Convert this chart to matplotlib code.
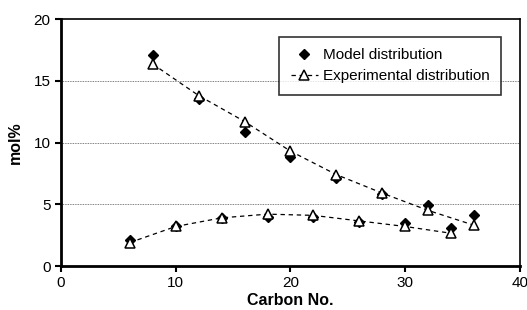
import matplotlib.pyplot as plt
import numpy as np

plt.rcParams['font.family'] = ['Liberation Sans', 'DejaVu Sans']

# upper branch (C8..C36) and lower branch (C6..C34)
carbon_upper = [8, 12, 16, 20, 24, 28, 32, 36]
model_upper = [17.1, 13.5, 10.85, 8.8, 7.15, 5.8, 4.9, 4.1]
exp_upper = [16.35, 13.8, 11.7, 9.3, 7.4, 5.9, 4.5, 3.3]

carbon_lower = [6, 10, 14, 18, 22, 26, 30, 34]
model_lower = [2.1, 3.2, 3.85, 4.0, 4.0, 3.6, 3.45, 3.1]
exp_lower = [1.9, 3.2, 3.9, 4.2, 4.1, 3.65, 3.2, 2.65]

fig = plt.figure(figsize=(5.27, 3.10), dpi=100)
ax = fig.add_axes([0.1157, 0.1419, 0.8710, 0.7968])

for y in [5, 10, 15]:
    ax.axhline(y, color='#555555', lw=0.6, ls=(0, (1, 1)), zorder=0)

ax.plot(carbon_upper, model_upper, ls='none', marker='D', ms=5.5, color='black',
        label='Model distribution', zorder=3)
ax.plot(carbon_lower, model_lower, ls='none', marker='D', ms=5.5, color='black', zorder=3)
ax.plot(carbon_upper, exp_upper, ls=(0, (3.5, 3)), lw=0.9, color='black', marker='^', ms=7,
        mfc='white', mec='black', mew=1.1, label='Experimental distribution', zorder=4)
ax.plot(carbon_lower, exp_lower, ls=(0, (3.5, 3)), lw=0.9, color='black', marker='^', ms=7,
        mfc='white', mec='black', mew=1.1, zorder=4)

ax.set_xlim(0, 40)
ax.set_ylim(0, 20)
ax.set_xticks([0, 10, 20, 30, 40])
ax.set_yticks([0, 5, 10, 15, 20])
ax.tick_params(labelsize=11, direction='out', length=4, width=1.5)
for side in ['left', 'bottom']:
    ax.spines[side].set_linewidth(2)
for side in ['top', 'right']:
    ax.spines[side].set_linewidth(1.2)

ax.set_xlabel('Carbon No.', fontsize=11.5, fontweight='bold', labelpad=2)
ax.set_ylabel('mol%', fontsize=11.5, fontweight='bold', labelpad=8)

leg = ax.legend(loc='upper right', bbox_to_anchor=(0.9586, 0.927), fontsize=11,
                frameon=True, fancybox=False, edgecolor='black', borderpad=0.75,
                borderaxespad=0, handlelength=1.8, handletextpad=0.3, labelspacing=0.45)
leg.get_frame().set_linewidth(1.2)

fig.savefig('out.png', dpi=100)
